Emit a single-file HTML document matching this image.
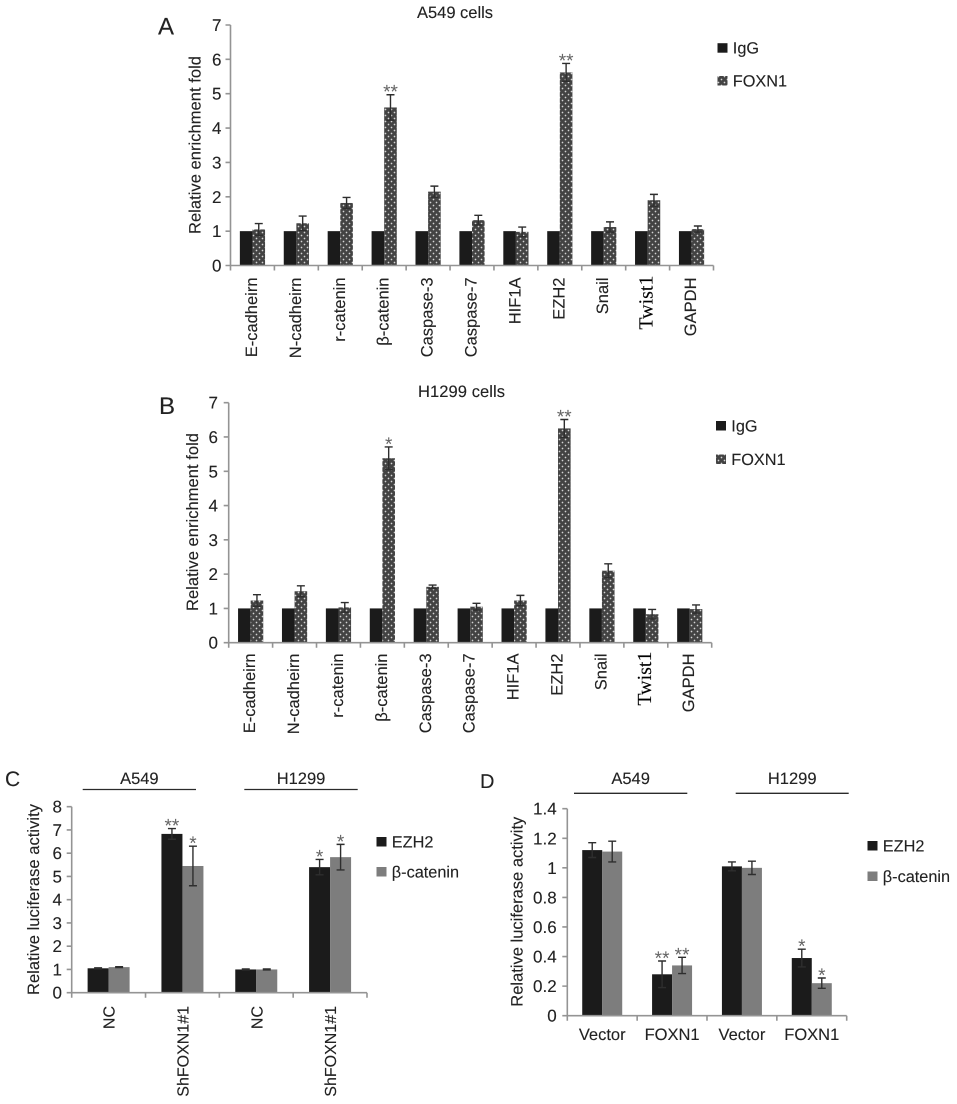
<!DOCTYPE html>
<html lang="en">
<head>
<meta charset="utf-8">
<title>FOXN1 enrichment and luciferase activity</title>
<style>
html,body{margin:0;padding:0;background:#fff;}
#figure{display:block;width:957px;height:1104px;font-family:"Liberation Sans",Arial,sans-serif;filter:blur(0.3px);}
#figure text{text-rendering:geometricPrecision;stroke:#222;stroke-width:0.12;}
</style>
</head>
<body>
<svg id="figure" xmlns="http://www.w3.org/2000/svg" width="957" height="1104" viewBox="0 0 957 1104">
  <defs>
    <pattern id="dots" patternUnits="userSpaceOnUse" width="6" height="6">
      <rect width="6" height="6" fill="#434343"></rect>
      <circle cx="1.5" cy="1.5" r="0.85" fill="#d4d4d4"></circle>
      <circle cx="4.5" cy="4.5" r="0.85" fill="#d4d4d4"></circle>
    </pattern>
  </defs>
</svg>
<script>
// ---------- Panel A data ----------
const panelACategories = ['E-cadheirn','N-cadheirn','r-catenin','β-catenin','Caspase-3','Caspase-7','HIF1A','EZH2','Snail','Twist1','GAPDH'];
const panelAIgG = [1,1,1,1,1,1,1,1,1,1,1];
const panelAFoxn1 = [1.05,1.23,1.82,4.6,2.15,1.32,0.98,5.62,1.12,1.9,1.06];
const panelAFoxn1Err = [0.17,0.21,0.16,0.37,0.16,0.14,0.14,0.26,0.15,0.17,0.09];
const panelAFoxn1Stars = ['','','','**','','','','**','','',''];
const panelATickLabels = ['0','1','2','3','4','5','6','7'];

// ---------- Panel B data ----------
const panelBCategories = ['E-cadheirn','N-cadheirn','r-catenin','β-catenin','Caspase-3','Caspase-7','HIF1A','EZH2','Snail','Twist1','GAPDH'];
const panelBIgG = [1,1,1,1,1,1,1,1,1,1,1];
const panelBFoxn1 = [1.23,1.5,1.03,5.38,1.63,1.05,1.23,6.25,2.1,0.83,0.98];
const panelBFoxn1Err = [0.17,0.16,0.14,0.33,0.05,0.1,0.15,0.26,0.2,0.14,0.12];
const panelBFoxn1Stars = ['','','','*','','','','**','','',''];
const panelBTickLabels = ['0','1','2','3','4','5','6','7'];

// ---------- Panel C data ----------
const panelCCategories = ['NC','ShFOXN1#1','NC','ShFOXN1#1'];
const panelCEzh2 = [1.05,6.83,1,5.4];
const panelCEzh2Err = [0.02,0.23,0.02,0.33];
const panelCEzh2Stars = ['','**','','*'];
const panelCCatenin = [1.1,5.45,1,5.83];
const panelCCateninErr = [0.02,0.85,0.02,0.55];
const panelCCateninStars = ['','*','','*'];
const panelCTickLabels = ['0','1','2','3','4','5','6','7','8'];

// ---------- Panel D data ----------
const panelDCategories = ['Vector','FOXN1','Vector','FOXN1'];
const panelDEzh2 = [1.12,0.28,1.01,0.39];
const panelDEzh2Err = [0.05,0.09,0.03,0.06];
const panelDEzh2Stars = ['','**','','*'];
const panelDCatenin = [1.11,0.34,1,0.22];
const panelDCateninErr = [0.07,0.055,0.045,0.035];
const panelDCateninStars = ['','**','','*'];
const panelDTickLabels = ['0','0.2','0.4','0.6','0.8','1','1.2','1.4'];

const SVG_NS = 'http://www.w3.org/2000/svg';
const root = document.getElementById('figure');
const INK = '#222222';

function slug(s) {
  return String(s).toLowerCase().replace(/β/g, 'beta').replace(/[^a-z0-9]+/g, '-').replace(/^-|-$/g, '');
}
function shape(parent, tag, props) {
  const el = document.createElementNS(SVG_NS, tag);
  Object.keys(props).forEach(function (k) { el.setAttribute(k, props[k]); });
  parent.appendChild(el);
  return el;
}
function label(parent, str, props) {
  const el = shape(parent, 'text', props);
  el.textContent = str;
  return el;
}

function drawPanel(p) {
  const g = shape(root, 'g', {});
  
  

  const n = p.categories.length;
  const catW = (p.xRight - p.xLeft) / n;
  const yMax = Number(p.tickLabels[p.tickLabels.length - 1]);
  const xScale = function (i) { return p.xLeft + (i + 0.5) * catW; };
  const yScale = function (v) { return p.y0 - v * (p.y0 - p.yTop) / yMax; };

  // bars
  p.series.forEach(function (s, si) {
    s.values.forEach(function (v, i) {
      const x = si === 0 ? xScale(i) - p.barW : xScale(i);
      const bar = shape(g, 'rect', { x: x, y: yScale(v), width: p.barW, height: p.y0 - yScale(v), fill: s.fill });
      
      
    });
  });

  // error bars and significance stars
  p.series.forEach(function (s, si) {
    if (!s.errors) return;
    s.values.forEach(function (v, i) {
      const cx = si === 0 ? xScale(i) - p.barW / 2 : xScale(i) + p.barW / 2;
      const top = yScale(v + s.errors[i]);
      const bottom = yScale(v - s.errors[i]);
      const err = shape(g, 'path', {
        d: 'M' + (cx - 4) + ' ' + top + 'H' + (cx + 4) + 'M' + cx + ' ' + top + 'V' + bottom + 'M' + (cx - 4) + ' ' + bottom + 'H' + (cx + 4),
        stroke: '#2e2e2e', 'stroke-width': 1.4, fill: 'none'
      });
      
      
      if (s.stars && s.stars[i]) {
        const star = label(g, s.stars[i], { x: cx, y: top + 3.5, 'text-anchor': 'middle', 'font-size': 19, fill: '#666666', style: 'stroke:none' });
        
        
      }
    });
  });

  // axes
  let axisPath = 'M' + p.xLeft + ' ' + p.yTop + 'V' + p.y0 + 'H' + p.xRight;
  p.tickLabels.forEach(function (t) {
    axisPath += 'M' + (p.xLeft - 5) + ' ' + yScale(Number(t)) + 'H' + p.xLeft;
  });
  for (let i = 0; i <= n; i++) {
    axisPath += 'M' + (p.xLeft + i * catW) + ' ' + p.y0 + 'v5';
  }
  const axes = shape(g, 'path', { d: axisPath, stroke: '#949494', 'stroke-width': 1.6, fill: 'none' });
  
  

  // y tick labels
  p.tickLabels.forEach(function (t) {
    const tick = label(g, t, { x: p.tickRight, y: yScale(Number(t)) + 6, 'text-anchor': 'end', 'font-size': 17, fill: INK });
    
    
  });

  // y title
  const yTitle = label(g, p.yTitle, {
    transform: 'translate(' + p.yTitleX + ' ' + p.yTitleBottom + ') rotate(-90)',
    textLength: p.yTitleLength, 'font-size': 16.5, fill: INK
  });
  
  

  // x labels
  p.categories.forEach(function (c, i) {
    let el;
    if (p.horizontalLabels) {
      el = label(g, c, { x: xScale(i), y: p.xLabelY, 'text-anchor': 'middle', 'font-size': 16.5, fill: INK });
    } else {
      const serif = c === 'Twist1';
      el = label(g, c, {
        transform: 'translate(' + (xScale(i) + p.xLabelOffset + (serif ? 0.5 : 0)) + ' ' + (p.xLabelY - (serif ? 2 : 0)) + ') rotate(-90)',
        'text-anchor': 'end',
        'font-size': serif ? 20 : p.xLabelSize,
        'font-family': serif ? '"Liberation Serif", serif' : '"Liberation Sans", sans-serif',
        fill: serif ? '#000000' : INK
      });
    }
    
    
  });

  // panel letter
  const letter = label(g, p.letter, { x: p.letterX, y: p.letterY, 'font-size': p.letterSize, fill: INK });
  
  

  // title
  if (p.title) {
    const title = label(g, p.title, { x: p.titleX, y: p.titleY, textLength: p.titleLength, 'font-size': 16.5, fill: INK });
    
    
  }

  // group headers
  (p.groups || []).forEach(function (h) {
    const t = label(g, h.name, { x: (h.x1 + h.x2) / 2, y: p.groupTextY, 'text-anchor': 'middle', 'font-size': 16.5, fill: INK });
    
    
    const line = shape(g, 'line', { x1: h.x1, x2: h.x2, y1: p.groupLineY, y2: p.groupLineY, stroke: '#2a2a2a', 'stroke-width': 1.3 });
    
    
  });

  // legend
  p.series.forEach(function (s, si) {
    const entry = shape(g, 'g', {});
    
    
    const sw = shape(entry, 'rect', { x: p.legendX, y: p.legendY[si], width: 10, height: 9.5, fill: s.fill });
    
    
    const tx = label(entry, s.name, { x: p.legendX + 15.3, y: p.legendY[si] + 10.3, 'font-size': 16.3, fill: INK });
    
    
  });
}

drawPanel({
  id: 'a', letter: 'A', letterX: 158, letterY: 34.5, letterSize: 24,
  title: 'A549 cells', titleX: 417, titleY: 18, titleLength: 76,
  categories: panelACategories, tickLabels: panelATickLabels,
  series: [
    { name: 'IgG', values: panelAIgG, fill: '#1b1b1b' },
    { name: 'FOXN1', values: panelAFoxn1, errors: panelAFoxn1Err, stars: panelAFoxn1Stars, fill: 'url(#dots)' }
  ],
  xLeft: 230.5, xRight: 713.5, y0: 265.5, yTop: 25, barW: 12.6,
  tickRight: 221.5, yTitle: 'Relative enrichment fold', yTitleX: 200.5, yTitleBottom: 234, yTitleLength: 178,
  xLabelY: 277.5, xLabelOffset: 4.5, xLabelSize: 16.5,
  legendX: 717.5, legendY: [43.2, 76]
});

drawPanel({
  id: 'b', letter: 'B', letterX: 159, letterY: 414, letterSize: 24,
  title: 'H1299 cells', titleX: 418, titleY: 397, titleLength: 87,
  categories: panelBCategories, tickLabels: panelBTickLabels,
  series: [
    { name: 'IgG', values: panelBIgG, fill: '#1b1b1b' },
    { name: 'FOXN1', values: panelBFoxn1, errors: panelBFoxn1Err, stars: panelBFoxn1Stars, fill: 'url(#dots)' }
  ],
  xLeft: 228.7, xRight: 711.7, y0: 642.7, yTop: 402.7, barW: 12.6,
  tickRight: 218, yTitle: 'Relative enrichment fold', yTitleX: 198, yTitleBottom: 611, yTitleLength: 178,
  xLabelY: 653.5, xLabelOffset: 4.5, xLabelSize: 16.5,
  legendX: 716, legendY: [421, 454.5]
});

drawPanel({
  id: 'c', letter: 'C', letterX: 5, letterY: 786, letterSize: 21,
  categories: panelCCategories, tickLabels: panelCTickLabels,
  series: [
    { name: 'EZH2', values: panelCEzh2, errors: panelCEzh2Err, stars: panelCEzh2Stars, fill: '#1b1b1b' },
    { name: 'β-catenin', values: panelCCatenin, errors: panelCCateninErr, stars: panelCCateninStars, fill: '#7d7d7d' }
  ],
  xLeft: 71.7, xRight: 367, y0: 992.7, yTop: 806.7, barW: 21,
  tickRight: 62, yTitle: 'Relative luciferase activity', yTitleX: 39, yTitleBottom: 995, yTitleLength: 191,
  xLabelY: 1006, xLabelOffset: 6, xLabelSize: 16,
  groups: [{ name: 'A549', x1: 82.7, x2: 196 }, { name: 'H1299', x1: 244.3, x2: 357.7 }],
  groupTextY: 784, groupLineY: 789.5,
  legendX: 376.5, legendY: [837, 867]
});

drawPanel({
  id: 'd', letter: 'D', letterX: 480, letterY: 788, letterSize: 20,
  categories: panelDCategories, tickLabels: panelDTickLabels,
  series: [
    { name: 'EZH2', values: panelDEzh2, errors: panelDEzh2Err, stars: panelDEzh2Stars, fill: '#1b1b1b' },
    { name: 'β-catenin', values: panelDCatenin, errors: panelDCateninErr, stars: panelDCateninStars, fill: '#7d7d7d' }
  ],
  xLeft: 567.3, xRight: 846.7, y0: 1015.7, yTop: 808.7, barW: 20,
  tickRight: 556.7, yTitle: 'Relative luciferase activity', yTitleX: 522.7, yTitleBottom: 1006.7, yTitleLength: 190,
  horizontalLabels: true, xLabelY: 1040,
  groups: [{ name: 'A549', x1: 574, x2: 687.3 }, { name: 'H1299', x1: 735.7, x2: 848.7 }],
  groupTextY: 784, groupLineY: 793.3,
  legendX: 867.5, legendY: [841, 871.5]
});
</script>
</body>
</html>
